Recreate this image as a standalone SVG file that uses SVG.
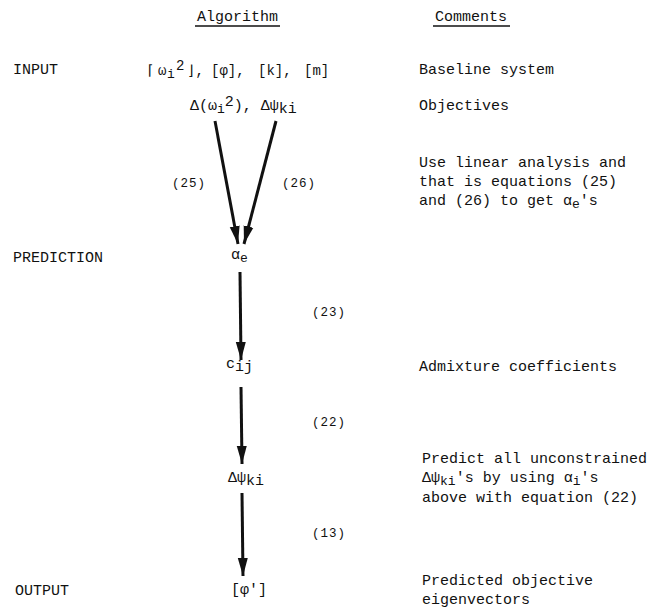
<svg xmlns="http://www.w3.org/2000/svg" width="665" height="616" viewBox="0 0 665 616">
<defs>
<style>
text{font-family:"Liberation Mono","DejaVu Sans Mono",monospace;font-size:15px;fill:#111}
.f{font-size:14px}
.eq{font-size:12.5px;letter-spacing:1px}
.sub{font-size:13px}
.conn line{stroke:#111;stroke-width:3}
.ul{stroke:#111;stroke-width:1.4}
</style>
<marker id="ah" markerUnits="userSpaceOnUse" markerWidth="19" markerHeight="11" refX="18" refY="5.5" orient="auto">
<path d="M0,0.5 L18,5.5 L0,10.5 z" fill="#111"/>
</marker>
</defs>
<rect width="665" height="616" fill="#fff"/>
<g id="headers">
<text x="197" y="21">Algorithm</text>
<line class="ul" x1="195" y1="26" x2="280" y2="26"/>
<text x="435" y="21">Comments</text>
<line class="ul" x1="433" y1="26" x2="510" y2="26"/>
</g>
<g id="stages">
<text x="13" y="74">INPUT</text>
<text x="13" y="262">PREDICTION</text>
<text x="15" y="595">OUTPUT</text>
</g>
<g id="node-input">
<text class="f" y="75"><tspan x="146">⌈</tspan><tspan x="158">ω</tspan><tspan class="sub" x="167" dy="3">i</tspan><tspan x="176" dy="-8">2</tspan><tspan x="187" dy="5">⌋,</tspan><tspan x="211">[φ],</tspan><tspan x="258">[k],</tspan><tspan x="304">[m]</tspan></text>
</g>
<g id="node-objectives">
<text x="190" y="110">Δ(ω<tspan class="sub" dy="3">i</tspan><tspan dy="-7">2</tspan><tspan dy="4">), Δψ</tspan><tspan dy="3">ki</tspan></text>
</g>
<g id="node-alpha">
<text x="231" y="259">α<tspan class="sub" dy="3">e</tspan></text>
</g>
<g id="node-c">
<text x="226" y="368">c<tspan dy="3">ij</tspan></text>
</g>
<g id="node-dpsi">
<text x="228" y="482">Δψ<tspan dy="3">ki</tspan></text>
</g>
<g id="node-output">
<text x="231" y="594">[φ']</text>
</g>
<g class="conn" id="connectors">
<line x1="215" y1="121" x2="238" y2="244" marker-end="url(#ah)"/>
<line x1="276" y1="121" x2="244" y2="244" marker-end="url(#ah)"/>
<line x1="240" y1="272" x2="241" y2="360" marker-end="url(#ah)"/>
<line x1="241" y1="387" x2="242" y2="464" marker-end="url(#ah)"/>
<line x1="242" y1="493" x2="243" y2="576" marker-end="url(#ah)"/>
<text class="eq" x="172" y="187">(25)</text>
<text class="eq" x="282" y="187">(26)</text>
<text class="eq" x="312" y="316">(23)</text>
<text class="eq" x="312" y="426">(22)</text>
<text class="eq" x="312" y="537">(13)</text>
</g>
<g id="comments">
<text x="419" y="74">Baseline system</text>
<text x="419" y="110">Objectives</text>
<text x="419" y="167">Use linear analysis and</text>
<text x="419" y="186">that is equations (25)</text>
<text x="419" y="205">and (26) to get α<tspan class="sub" dy="3">e</tspan><tspan dy="-3">'s</tspan></text>
<text x="419" y="371">Admixture coefficients</text>
<text x="422" y="463">Predict all unconstrained</text>
<text x="422" y="482">Δψ<tspan class="sub" dy="3">ki</tspan><tspan dy="-3">'s by using α</tspan><tspan class="sub" dy="3">i</tspan><tspan dy="-3">'s</tspan></text>
<text x="422" y="502">above with equation (22)</text>
<text x="422" y="585">Predicted objective</text>
<text x="422" y="604">eigenvectors</text>
</g>
</svg>
